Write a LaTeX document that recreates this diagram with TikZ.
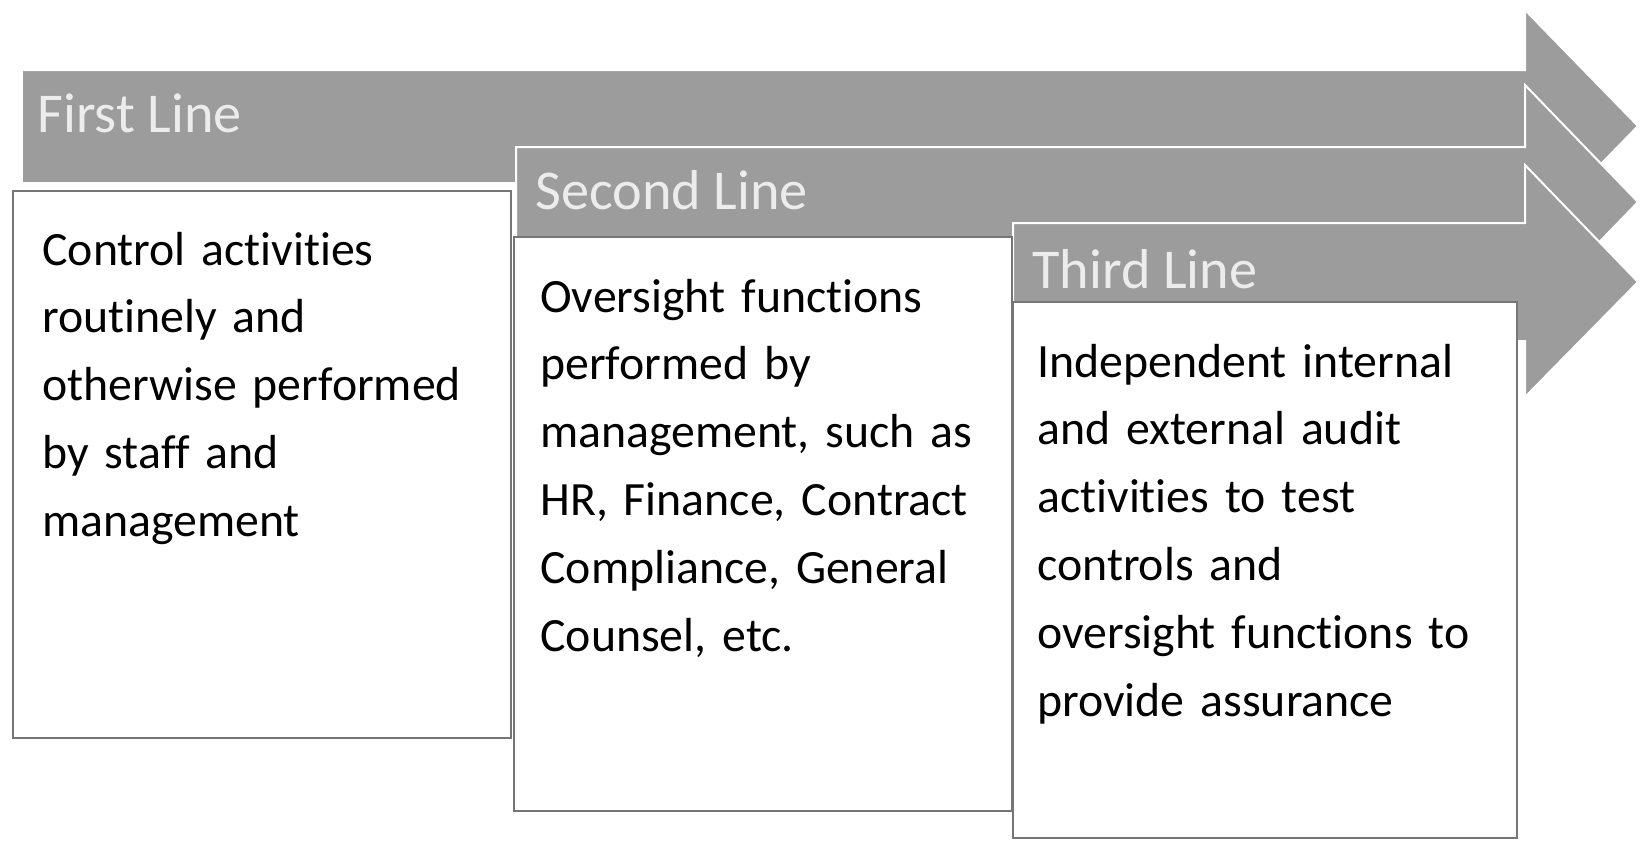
\documentclass[tikz,border=0pt]{standalone}
\usepackage{fontspec}
\setmainfont[Ligatures=NoCommon]{Carlito}
\usepackage{pgf, tikz}
\pgfdeclarelayer{arrowlayer}
\pgfdeclarelayer{boxlayer}
\pgfsetlayers{arrowlayer,boxlayer,main}
\definecolor{arrowgrey}{RGB}{156,156,156}
\definecolor{labelgrey}{RGB}{236,236,236}
\definecolor{boxline}{RGB}{118,118,118}
\tikzstyle{linearrow}=[fill=arrowgrey, draw=white, line width=0.04cm, line join=miter]
\tikzstyle{linebox}=[fill=white, draw=boxline, line width=0.035cm]
\tikzstyle{linelabel}=[anchor=base west, inner sep=0pt, text=labelgrey, font=\fontsize{32}{38}\selectfont]
\tikzstyle{boxtext}=[anchor=base west, inner sep=0pt, text width=9cm, align=left, font=\fontsize{27.2}{38.7}\selectfont]

\begin{document}
\begin{tikzpicture}[x=0.02cm, y=-0.02cm]
						\useasboundingbox (0, 0) rectangle (1643, 842);
						\begin{pgfonlayer}{arrowlayer}
							\draw [style=linearrow] (22, 70) -- (1525, 70) -- (1525, 10) -- (1638, 126) -- (1525, 242) -- (1525, 183) -- (22, 183) -- cycle;
							\draw [style=linearrow] (516, 147) -- (1525, 147) -- (1525, 85) -- (1638, 202) -- (1525, 319) -- (1525, 257) -- (516, 257) -- cycle;
							\draw [style=linearrow] (1013, 223) -- (1525, 223) -- (1525, 165) -- (1638, 282) -- (1525, 397) -- (1525, 341) -- (1013, 341) -- cycle;
						\end{pgfonlayer}
						\begin{pgfonlayer}{boxlayer}
							\draw [style=linebox] (13, 191) rectangle (511, 738);
							\draw [style=linebox] (514, 237) rectangle (1012, 811);
							\draw [style=linebox] (1013, 302) rectangle (1517, 838);
						\end{pgfonlayer}
						\node [style=linelabel] (first) at (37, 132) {First Line};
						\node [style=linelabel] (second) at (535, 209) {Second Line};
						\node [style=linelabel] (third) at (1032, 288) {Third Line};
						\node [style=boxtext] (firsttext) at (42, 265) {Control activities\\ routinely and\\ otherwise performed\\ by staff and\\ management};
						\node [style=boxtext] (secondtext) at (540, 312) {Oversight functions\\ performed by\\ management, such as\\ HR, Finance, Contract\\ Compliance, General\\ Counsel, etc.};
						\node [style=boxtext] (thirdtext) at (1037, 377) {Independent internal\\ and external audit\\ activities to test\\ controls and\\ oversight functions to\\ provide assurance};
					\end{tikzpicture}
\end{document}
